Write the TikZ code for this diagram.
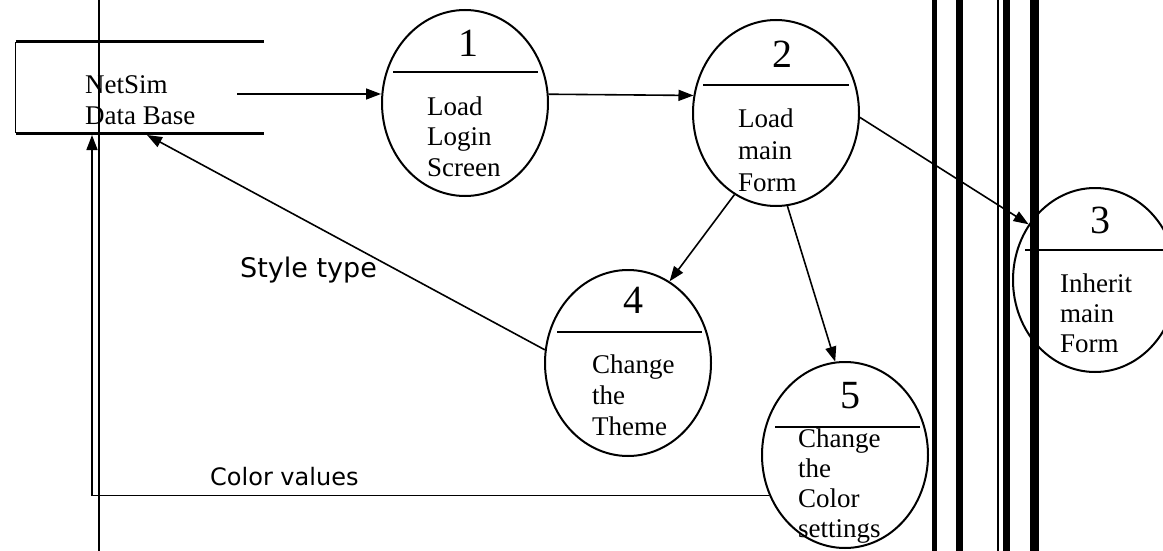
\documentclass[tikz,border=0pt]{standalone}
\usepackage{fontspec}
\setmainfont{Liberation Serif}
\newfontfamily\sansf{DejaVu Sans}
\usetikzlibrary{shapes.geometric,arrows.meta}
\newcommand\stk[2]{\vtop{\baselineskip=#1\lineskiplimit=-50pt\halign{##\hfil\cr#2\crcr}}}
\begin{document}
\begin{tikzpicture}[x=1pt,y=-1pt,
 proc/.style={ellipse,draw,line width=2pt,minimum width=166pt,minimum height=186pt,inner sep=0pt},
 divider/.style={line width=2.5pt},
 flow/.style={line width=1.6pt,-{Triangle[length=15pt,width=11pt]}},
 num/.style={font=\fontsize{40}{44}\selectfont,anchor=base,inner sep=0pt},
 txt/.style={font=\fontsize{27}{31}\selectfont,anchor=base west,inner sep=0pt},
 lbl/.style={font=\sansf\fontsize{27}{30}\selectfont,anchor=base west,inner sep=0pt}]
\useasboundingbox (0,0) rectangle (1163,551);
\fill[white] (0,0) rectangle (1163,551);
\clip (0,0) rectangle (1163,551);

% vertical rules
\draw[line width=1.5pt] (99,0) -- (99,551);
\draw[line width=5pt] (934.5,0) -- (934.5,551);
\draw[line width=7pt] (959.5,0) -- (959.5,551);
\draw[line width=1.3pt] (998,0) -- (998,551);
\draw[line width=7pt] (1006.5,0) -- (1006.5,551);
\draw[line width=9pt] (1034.5,0) -- (1034.5,551);

% data store
\node[inner sep=0pt,minimum width=248pt,minimum height=91pt] (ds) at (140,87.5) {};
\draw[line width=3pt] (ds.north west) -- (ds.north east);
\draw[line width=3pt] (ds.south west) -- (ds.south east);
\draw[line width=0.8pt] (ds.north west) -- (ds.south west);
\node[txt] (dstext) at (85,93) {\stk{32pt}{NetSim\cr Data Base}};

% processes
\node[proc] (p1) at (465,103) {};
\draw[divider] (393,72) -- (538,72);
\node[num] (n1) at (468,57) {1};
\node[txt] (t1) at (427,115) {\stk{31pt}{Load\cr Login\cr Screen}};

\node[proc] (p2) at (776,113) {};
\draw[divider] (703,85) -- (849,85);
\node[num] (n2) at (782,68) {2};
\node[txt] (t2) at (738,128) {\stk{32pt}{Load\cr main\cr Form}};

\node[proc,minimum width=164pt,minimum height=184pt] (p3) at (1095,280) {};
\draw[divider] (1025,250) -- (1170,250);
\node[num] (n3) at (1100,233) {3};
\node[txt] (t3) at (1060,292) {\stk{30pt}{Inherit\cr main\cr Form}};

\node[proc] (p4) at (628,363) {};
\draw[divider] (557,332) -- (702,332);
\node[num] (n4) at (633,313) {4};
\node[txt] (t4) at (592,373) {\stk{31pt}{Change\cr the\cr Theme}};

\node[proc] (p5) at (845,455) {};
\draw[divider] (775,427) -- (920,427);
\node[num] (n5) at (850,408) {5};
\node[txt] (t5) at (798,447) {\stk{30pt}{Change\cr the\cr Color\cr settings}};

% connectors
\coordinate (dsout) at (237,94);
\draw[flow] (dsout) -- (dsout -| p1.west);
\draw[flow] (p1.6) -- (p2.168);
\draw[flow] (p2.-3) -- (p3.140);
\draw[flow] (p2.243) -- (p4.63);
\draw[flow] (p2.-83) -- (p5.96);
\coordinate (dsin1) at (147,135);
\draw[flow] (p4.171) -- (dsin1);
\coordinate (dsin2) at (92,135);
\draw[flow] (p5.208) -| (dsin2);

% labels
\node[lbl] (style) at (240,277) {Style type};
\node[lbl,font=\sansf\fontsize{24}{28}\selectfont] (color) at (210,485) {Color values};
\end{tikzpicture}
\end{document}
